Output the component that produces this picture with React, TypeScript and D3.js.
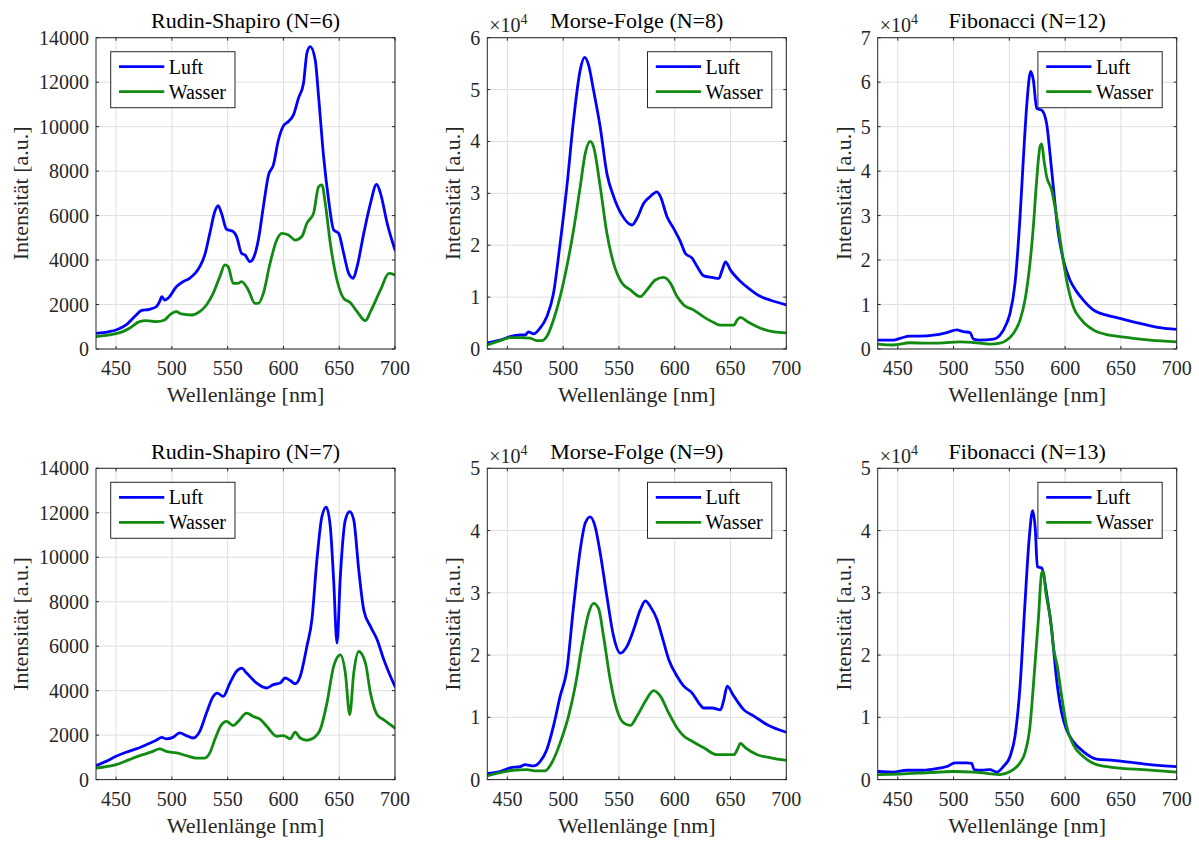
import React from 'react';
import * as d3 from 'd3';

type Pt = [number, number];

// ---------- data (wavelength nm, intensity) ----------
// Rudin-Shapiro N=6 (a.u.)
const rs6Luft: Pt[] = [[432,700],[444,780],[450,855],[459,1080],[468,1530],[472.5,1725],[480,1785],[486,1900],[489,2130],[491,2355],[493.5,2200],[496.5,2280],[504,2800],[510,3030],[516,3180],[525,3700],[529.5,4230],[534,5200],[538.5,6180],[541.5,6450],[544.5,6100],[549,5385],[555,5280],[558,5055],[562.5,4300],[565.5,4230],[570,3930],[573,4080],[577.5,4900],[582,6400],[586.5,7800],[591,8280],[595.5,9400],[600,10035],[604.5,10230],[609,10530],[613.5,11280],[618,11955],[621,13300],[624,13600],[628.5,13000],[631.5,11350],[636,8650],[640.5,6700],[645,5355],[649.5,5200],[654,4300],[658.5,3400],[662.5,3180],[666,3700],[672,5200],[678,6550],[683.5,7400],[687,7000],[693,5650],[700,4450]];
const rs6Wasser: Pt[] = [[432,555],[444,630],[456,780],[462,930],[471,1230],[477,1275],[486,1230],[493.5,1305],[498,1530],[504,1680],[508.5,1575],[517.5,1530],[525,1680],[531,1980],[537,2500],[543,3255],[547.5,3780],[550.5,3700],[555,2955],[559.5,2955],[562.5,3030],[568.5,2655],[574.5,2055],[577.5,2055],[582,2500],[588,3855],[594,4900],[598.5,5200],[604.5,5130],[610.5,4900],[616.5,5055],[621,5655],[627,6100],[631.5,7300],[634.5,7380],[637.5,6555],[642,4755],[648,3105],[654,2280],[660,2085],[666,1680],[673.5,1275],[678,1680],[687,2655],[694.5,3400],[700,3330]];

// Morse-Folge N=8 (x10^4 a.u.)
const mf8Luft: Pt[] = [[432,0.12],[443.4,0.17],[452.4,0.24],[461.4,0.27],[466,0.27],[469,0.33],[473.4,0.29],[479.3,0.40],[485.3,0.62],[491.3,1.07],[497.3,2.04],[503.3,3.13],[509.3,4.41],[515.3,5.38],[519.2,5.62],[522.8,5.47],[527.2,4.99],[533.2,4.28],[539.2,3.38],[545.2,2.94],[552.7,2.58],[561.7,2.39],[566.2,2.52],[572.2,2.81],[578.1,2.94],[584.1,3.03],[587.1,2.94],[593.1,2.55],[599.1,2.32],[605.1,2.07],[609.6,1.84],[615.6,1.75],[620.1,1.59],[626,1.41],[633.5,1.38],[639.5,1.36],[642.5,1.52],[645.5,1.68],[650,1.52],[659,1.30],[668,1.14],[677,1.01],[686,0.94],[700,0.85]];
const mf8Wasser: Pt[] = [[432,0.08],[443.4,0.16],[452.4,0.22],[461.4,0.22],[470.4,0.21],[476.3,0.16],[480.8,0.16],[485.3,0.24],[491.3,0.56],[497.3,1.01],[503.3,1.59],[509.3,2.29],[515.3,3.13],[519.8,3.77],[524.3,4.0],[527.2,3.90],[533.2,3.13],[539.2,2.23],[545.2,1.65],[552.7,1.27],[560.2,1.14],[569.2,1.01],[575.1,1.14],[582.6,1.33],[590.1,1.38],[596.1,1.27],[602.1,1.01],[608.1,0.85],[617.1,0.75],[626,0.62],[635,0.51],[641,0.46],[653,0.46],[656,0.56],[659,0.61],[665,0.53],[677,0.40],[689,0.33],[700,0.31]];

// Fibonacci N=12 (x10^4 a.u.)
const fb12Luft: Pt[] = [[432.7,0.20],[446,0.20],[452,0.24],[461,0.29],[470,0.29],[482,0.31],[494,0.37],[502.8,0.43],[508.8,0.39],[514.8,0.37],[517.8,0.22],[523.7,0.20],[535.7,0.22],[541.6,0.31],[547.6,0.58],[550.6,0.80],[555.1,1.48],[559.6,2.98],[562.5,4.25],[565.5,5.45],[569.1,6.24],[571.5,6.05],[574.5,5.41],[579,5.37],[583.4,5.07],[586.4,4.40],[589.4,3.65],[593.9,2.60],[598.4,2.00],[604.3,1.55],[610.3,1.29],[616.3,1.10],[625.2,0.88],[637.2,0.76],[649.1,0.69],[661,0.61],[673,0.54],[685,0.48],[700,0.44]];
const fb12Wasser: Pt[] = [[432.7,0.11],[446,0.09],[461,0.14],[476,0.13],[491,0.14],[505.8,0.16],[520.7,0.14],[532.7,0.11],[541.6,0.13],[547.6,0.20],[553.6,0.35],[559.6,0.65],[564,1.10],[568.5,1.93],[571.5,2.75],[574.5,3.80],[577.5,4.55],[579,4.61],[581,4.25],[583.4,3.88],[587.9,3.58],[592.4,2.98],[596.9,2.23],[601.3,1.55],[607.3,0.95],[614.8,0.65],[625.2,0.43],[640.1,0.31],[655,0.26],[676,0.20],[700,0.16]];

// Rudin-Shapiro N=7 (a.u.)
const rs7Luft: Pt[] = [[432,630],[441,820],[450,1050],[459,1230],[468,1380],[477,1570],[486,1770],[491,1900],[495,1830],[501,1900],[507,2100],[513,1980],[519,1870],[525,2170],[531,2990],[537,3740],[540.6,3890],[546,3740],[552,4340],[558,4870],[562.5,5010],[567,4790],[576,4340],[585,4120],[591,4270],[597,4340],[601.5,4570],[606,4460],[610.5,4310],[615,4640],[621,5990],[625.5,7190],[630,9880],[634.5,11830],[638.4,12250],[642,11380],[645,8980],[648,6140],[651,9130],[655.5,11680],[659.4,12050],[663,11680],[667.5,9430],[672,7630],[678,6890],[684,6290],[690,5390],[696,4640],[700,4190]];
const rs7Wasser: Pt[] = [[432,520],[450,670],[462,900],[474,1120],[483,1270],[489,1380],[495,1270],[504,1200],[513,1080],[522,970],[529.5,970],[534,1200],[538.5,1800],[544.5,2470],[549,2620],[555,2430],[559.5,2620],[567,2990],[573,2840],[579,2720],[585,2400],[594,1950],[600,1980],[606,1830],[610.5,2130],[615,1870],[621,1770],[627,1870],[633,2250],[639,3440],[645,5090],[651,5610],[655.5,4790],[659.4,2920],[663,4790],[667.5,5760],[673.5,5240],[678,3890],[684,2920],[690,2690],[700,2320]];

// Morse-Folge N=9 (x10^4 a.u.)
const mf9Luft: Pt[] = [[432,0.10],[443.4,0.13],[452.4,0.19],[461.4,0.21],[466,0.24],[473.4,0.22],[479.3,0.29],[485.3,0.48],[491.3,0.86],[497.3,1.34],[503.3,1.76],[509.3,2.78],[515.3,3.69],[519.8,4.12],[524.3,4.22],[528.7,4.06],[533.2,3.64],[539.2,2.94],[545.2,2.30],[551.2,2.03],[557.2,2.14],[563.2,2.41],[569.2,2.73],[573.7,2.87],[578.1,2.78],[584.1,2.57],[588.6,2.30],[594.6,1.93],[602.1,1.66],[608.1,1.50],[615.6,1.39],[621.6,1.23],[626,1.15],[633.5,1.15],[641,1.12],[644,1.28],[647,1.50],[653,1.34],[662,1.12],[671,1.02],[683,0.88],[700,0.76]];
const mf9Wasser: Pt[] = [[432,0.06],[443.4,0.11],[455.4,0.15],[467.4,0.16],[476.3,0.14],[483.8,0.14],[489.8,0.27],[497.3,0.59],[504.8,1.02],[510.8,1.50],[516.8,2.14],[522.8,2.67],[527.2,2.83],[531.7,2.75],[536.2,2.30],[542.2,1.60],[548.2,1.12],[554.2,0.91],[560.2,0.87],[566.2,1.02],[573.7,1.26],[581.1,1.43],[587.1,1.34],[594.6,1.07],[602.1,0.83],[608.1,0.70],[617.1,0.60],[626,0.51],[638,0.40],[653,0.40],[656,0.48],[659,0.58],[663.5,0.51],[674,0.40],[686,0.35],[700,0.31]];

// Fibonacci N=13 (x10^4 a.u.)
const fb13Luft: Pt[] = [[432.7,0.13],[446,0.12],[458,0.15],[470,0.15],[482,0.17],[494,0.21],[501.3,0.27],[505.8,0.27],[511.8,0.27],[516.3,0.26],[518.4,0.16],[525.2,0.15],[532.7,0.16],[538.7,0.12],[544.6,0.21],[550.6,0.37],[555.1,0.70],[559.6,1.50],[564,2.83],[567.9,3.90],[570.9,4.32],[573.3,4.01],[575.1,3.42],[579,3.40],[583.4,2.99],[587.9,2.41],[592.4,1.60],[596.9,1.07],[601.3,0.80],[607.3,0.61],[616.3,0.45],[628.2,0.33],[643.1,0.31],[658,0.28],[676,0.24],[700,0.21]];
const fb13Wasser: Pt[] = [[432.7,0.08],[452,0.09],[476,0.11],[499.9,0.13],[517.8,0.12],[529.7,0.10],[541.6,0.08],[550.6,0.13],[559.6,0.27],[564,0.43],[568.5,0.86],[571.5,1.50],[576,2.57],[579,3.32],[580.4,3.34],[582.8,2.99],[584.9,2.78],[587,2.57],[589.4,2.14],[593,1.82],[596.9,1.34],[601.3,0.86],[607.3,0.56],[616.3,0.37],[628.2,0.24],[646.1,0.19],[670,0.16],[700,0.12]];

// ---------- axes / labels ----------
const X_TICKS = [450, 500, 550, 600, 650, 700];
const X_DOMAIN: [number, number] = [432, 700];
const TITLES = ['Rudin-Shapiro (N=6)', 'Morse-Folge (N=8)', 'Fibonacci (N=12)', 'Rudin-Shapiro (N=7)', 'Morse-Folge (N=9)', 'Fibonacci (N=13)'];
const Y_MAX = [14000, 6, 7, 14000, 5, 5];
const Y_STEP = [2000, 1, 1, 2000, 1, 1];
const Y_EXP = [0, 4, 4, 0, 4, 4];
const LEGEND_SIDE = ['left', 'right', 'right', 'left', 'right', 'right'];
const SERIES_NAMES = ['Luft', 'Wasser'];
const SERIES_COLORS = ['#0000ff', '#118a11'];
const PANEL_DATA: Pt[][][] = [
  [rs6Luft, rs6Wasser],
  [mf8Luft, mf8Wasser],
  [fb12Luft, fb12Wasser],
  [rs7Luft, rs7Wasser],
  [mf9Luft, mf9Wasser],
  [fb13Luft, fb13Wasser],
];
const X_LABEL = 'Wellenlänge [nm]';
const Y_LABEL = 'Intensität [a.u.]';

// ---------- layout ----------
const LEFTS = [96, 487.3, 877.7];
const TOPS = [37.7, 468.3];
const PW = 299;
const PH = 311.3;
const FONT = 'Liberation Serif, Times New Roman, DejaVu Serif, serif';
const AX = '#262626';
const GRID = '#dfdfdf';
const TXT = { fontFamily: FONT };

function Panel({ idx }: { idx: number }) {
  const col = idx % 3;
  const row = Math.floor(idx / 3);
  const left = LEFTS[col];
  const top = TOPS[row];
  const x = d3.scaleLinear().domain(X_DOMAIN).range([left, left + PW]);
  const y = d3.scaleLinear().domain([0, Y_MAX[idx]]).range([top + PH, top]);
  const yTicks = d3.range(0, Y_MAX[idx] + Y_STEP[idx] / 2, Y_STEP[idx]);
  const line = d3
    .line<Pt>()
    .x((d) => x(d[0]))
    .y((d) => y(d[1]))
    .curve(d3.curveMonotoneX);
  const clipId = `clip-${idx}`;
  const bottom = top + PH;
  const right = left + PW;
  const wideTicks = Y_EXP[idx] === 0;
  const yLabelX = left - (wideTicks ? 68 : 27);
  const legW = 124.3;
  const legH = 56;
  const legX = LEGEND_SIDE[idx] === 'left' ? left + 14.7 : right - 14.5 - legW;
  const legY = top + 14;
  const tickLen = 3;

  return (
    <g style={TXT}>
      <defs>
        <clipPath id={clipId}>
          <rect x={left} y={top} width={PW} height={PH} />
        </clipPath>
      </defs>
      <rect x={left} y={top} width={PW} height={PH} fill="#ffffff" />
      {X_TICKS.map((t) => (
        <line key={`gx${t}`} x1={x(t)} x2={x(t)} y1={top} y2={bottom} stroke={GRID} strokeWidth={1} />
      ))}
      {yTicks.map((t) => (
        <line key={`gy${t}`} x1={left} x2={right} y1={y(t)} y2={y(t)} stroke={GRID} strokeWidth={1} />
      ))}
      <g clipPath={`url(#${clipId})`}>
        {PANEL_DATA[idx].map((s, i) => (
          <path key={i} d={line(s) || ''} fill="none" stroke={SERIES_COLORS[i]} strokeWidth={2.8} strokeLinejoin="round" strokeLinecap="round" />
        ))}
      </g>
      <rect x={left} y={top} width={PW} height={PH} fill="none" stroke={AX} strokeWidth={1} />
      {X_TICKS.map((t) => (
        <g key={`tx${t}`}>
          <line x1={x(t)} x2={x(t)} y1={bottom} y2={bottom - tickLen} stroke={AX} />
          <line x1={x(t)} x2={x(t)} y1={top} y2={top + tickLen} stroke={AX} />
          <text x={x(t)} y={bottom + 26} textAnchor="middle" fontSize={20} fill={AX} style={TXT}>
            {t}
          </text>
        </g>
      ))}
      {yTicks.map((t) => (
        <g key={`ty${t}`}>
          <line x1={left} x2={left + tickLen} y1={y(t)} y2={y(t)} stroke={AX} />
          <line x1={right} x2={right - tickLen} y1={y(t)} y2={y(t)} stroke={AX} />
          <text x={left - 7} y={y(t)} dy="0.35em" textAnchor="end" fontSize={20} fill={AX} style={TXT}>
            {t}
          </text>
        </g>
      ))}
      {Y_EXP[idx] > 0 && (
        <text x={left + 2} y={top - 5.5} fontSize={20} fill={AX} style={TXT}>
          ×10
          <tspan dy={-8} fontSize={14}>
            {Y_EXP[idx]}
          </tspan>
        </text>
      )}
      <text x={left + PW / 2} y={top - 9.4} textAnchor="middle" fontSize={22} fill="#000" style={TXT}>
        {TITLES[idx]}
      </text>
      <text x={left + PW / 2} y={bottom + 53} textAnchor="middle" fontSize={22} fill={AX} style={TXT}>
        {X_LABEL}
      </text>
      <text
        transform={`translate(${yLabelX},${top + PH / 2}) rotate(-90)`}
        textAnchor="middle"
        fontSize={22}
        fill={AX}
        style={TXT}
      >
        {Y_LABEL}
      </text>
      <rect x={legX} y={legY} width={legW} height={legH} fill="#ffffff" stroke={AX} strokeWidth={1} />
      {SERIES_NAMES.map((n, i) => {
        const ly = legY + 15 + i * 25;
        return (
          <g key={n}>
            <line x1={legX + 8.3} x2={legX + 53.6} y1={ly} y2={ly} stroke={SERIES_COLORS[i]} strokeWidth={2.8} />
            <text x={legX + 58} y={ly} dy="0.35em" fontSize={20} fill="#000" style={TXT}>
              {n}
            </text>
          </g>
        );
      })}
    </g>
  );
}

export default function App() {
  return (
    <svg width={1199} height={841} style={{ position: 'absolute', left: 0, top: 0, background: '#fff' }}>
      <rect x={0} y={0} width={1199} height={841} fill="#ffffff" />
      {d3.range(6).map((i) => (
        <Panel key={i} idx={i} />
      ))}
    </svg>
  );
}
